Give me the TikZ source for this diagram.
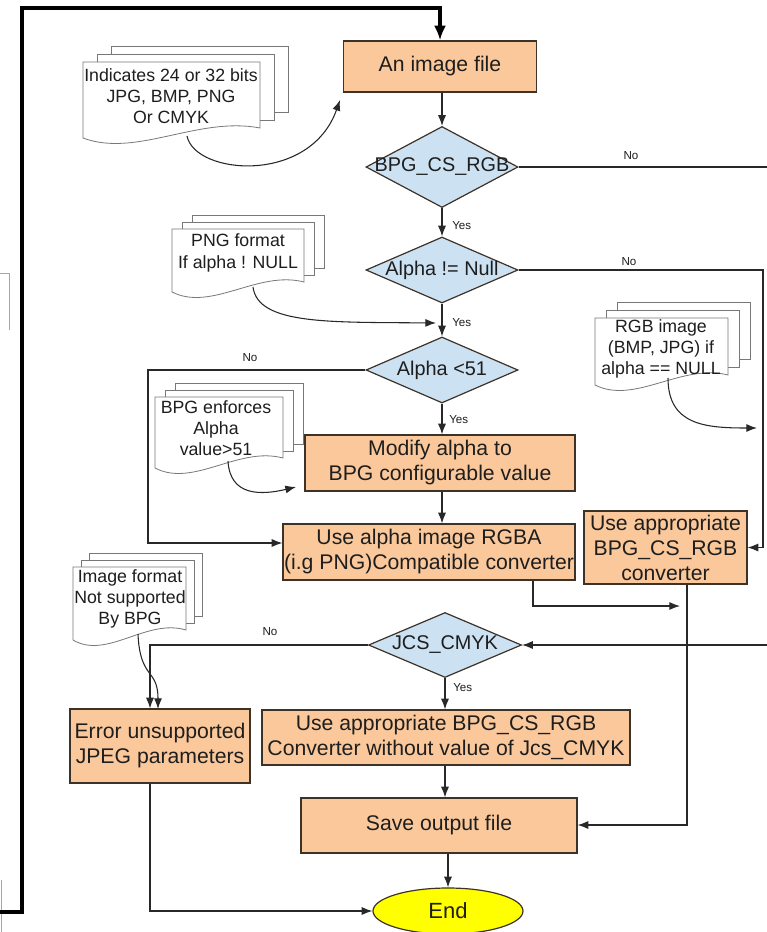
\documentclass[tikz,border=0pt]{standalone}
\usepackage{fontspec}
\setmainfont{Liberation Sans}
\usetikzlibrary{arrows.meta,shapes.geometric,calc}
\definecolor{boxfill}{RGB}{250,200,155}
\definecolor{diafill}{RGB}{204,226,242}
\definecolor{endfill}{RGB}{255,255,0}
\definecolor{boxline}{RGB}{60,50,40}
\definecolor{linecol}{RGB}{40,40,40}
\definecolor{notebord}{RGB}{120,120,120}
\definecolor{txt}{RGB}{30,30,30}
\newcommand\mydocstack[6]{%
  \draw[notebord, line width=0.6pt, fill=white] ({#1+2*#5},{#2-2*#6}) rectangle ({#3+2*#5},{#4-2*#6});
  \draw[notebord, line width=0.6pt, fill=white] ({#1+#5},{#2-#6}) rectangle ({#3+#5},{#4-#6});
  \draw[notebord, line width=0.6pt, fill=white] (#1,#2) -- (#3,#2) -- (#3,#4)
    .. controls ({#1+0.65*(#3-#1)},{#4-12}) and ({#1+0.3*(#3-#1)},{#4+30}) .. (#1,{#4+10}) -- cycle;
}
\begin{document}
\begin{tikzpicture}[x=0.75pt,y=-0.75pt,
  sz/.style 2 args={minimum width=#1*0.75pt, minimum height=#2*0.75pt},
  proc/.style={rectangle, draw=boxline, fill=boxfill, line width=0.9pt, inner sep=0pt, align=center,
    font=\fontsize{15.9}{18.75}\selectfont, text=txt},
  dec/.style={diamond, draw=boxline, fill=diafill, line width=0.9pt, inner sep=0pt},
  dtext/.style={font=\fontsize{14.9}{17}\selectfont, inner sep=0pt, text=txt},
  notetext/.style={align=center, font=\fontsize{13.3}{16}\selectfont, inner sep=0pt, text=txt},
  lab/.style={font=\fontsize{8.7}{10}\selectfont, inner sep=0pt, text=txt},
  conn/.style={draw=linecol, line width=0.8pt, -{Latex[length=8pt,width=6pt]}},
  plainline/.style={draw=linecol, line width=0.8pt},
  loopline/.style={draw=black, line width=2.6pt, -{Latex[length=11pt,width=9pt]}},
]
\useasboundingbox (0,0) rectangle (767,932);
\clip (0,0) rectangle (767,932);
\fill[white] (0,0) rectangle (767,932);

% small gray fragments at the left edge
\draw[gray!70, line width=0.6pt] (0,273) -- (9,273) -- (9,330);
\draw[gray!70, line width=0.6pt] (1,880) -- (1,932);

% ---- nodes ----
\node[proc, sz={193}{51}] (img) at (440,66.5) {An image file};
\node[dec, sz={152}{81}] (d1) at (442,167) {};
\node[dtext] (d1t) at (d1) {BPG\_CS\_RGB};
\node[dec, sz={152}{66}] (d2) at (442,270) {};
\node[dtext] (d2t) at (d2) {Alpha != Null};
\node[dec, sz={152}{66}] (d3) at (442,370) {};
\node[dtext] (d3t) at (d3) {Alpha <51};
\node[proc, sz={270}{56}] (mod) at (440,463) {Modify alpha to\\BPG configurable value};
\node[proc, sz={292}{56}] (usea) at (429,552) {Use alpha image RGBA\\(i.g PNG)Compatible converter};
\node[proc, sz={163}{73}] (usebpg) at (665.5,547.5) {Use appropriate\\BPG\_CS\_RGB\\converter};
\node[dec, sz={153}{65}] (d4) at (445,645) {};
\node[dtext] (d4t) at (d4) {JCS\_CMYK};
\node[proc, sz={180}{74}] (err) at (160,746) {Error unsupported\\JPEG parameters};
\node[proc, sz={368}{55}] (conv) at (446,737.5) {Use appropriate BPG\_CS\_RGB\\Converter without value of Jcs\_CMYK};
\node[proc, sz={276}{55}] (save) at (439,825.5) {Save output file};
\node[ellipse, draw=boxline, fill=endfill, line width=0.9pt, inner sep=0pt, sz={150}{46},
  font=\fontsize{16.5}{19}\selectfont, text=txt] (end) at (448,911) {End};

% ---- notes ----
\mydocstack{83}{62}{260}{128}{14}{8}
\node[notetext] (n1) at (171,96) {Indicates 24 or 32 bits\\JPG, BMP, PNG\\Or CMYK};
\mydocstack{172}{229}{304}{282}{10}{7}
\node[notetext] (n2) at (238,253) {PNG format\\If alpha ! NULL};
\mydocstack{155}{397}{283}{458}{10}{7}
\node[notetext] (n3) at (216,428) {BPG enforces\\Alpha\\value>51};
\mydocstack{595}{318}{728}{375}{11}{8}
\node[notetext] (n4) at (661,349) {RGB image\\(BMP, JPG) if\\alpha == NULL};
\mydocstack{73}{567}{186}{630}{8}{7}
\node[notetext] (n5) at (130,599) {Image format\\Not supported\\By BPG};

% ---- coordinates for bends / free ends ----
\coordinate (loopstart) at (0,912);
\coordinate (loopc) at (22,8);
\coordinate (d1out) at (767,167);
\coordinate (c2) at (763,270);
\coordinate (c3) at (148,370);
\coordinate (c5) at (533,606);
\coordinate (c4) at (680,606);
\coordinate (c6) at (687,825);
\coordinate (c7) at (767,645);
\coordinate (c8) at (150,645);
\coordinate (c9) at (150,911);
\coordinate (n1b) at (187,136);
\coordinate (n1e) at (340,100);
\coordinate (n2b) at (253,287);
\coordinate (n2e) at (436,323);
\coordinate (n3b) at (228,461);
\coordinate (n3e) at (296,487);
\coordinate (n4b) at (668,378);
\coordinate (n4e) at (757,428);
\coordinate (n5b) at (138,634);
\coordinate (n5e) at (158,709);

% ---- connectors ----
\draw[loopline] (loopstart) -- (22,912) -- (loopc) -| (img.north);
\draw[conn] (img.south -| d1.north) -- (d1.north);
\draw[conn] (d1.south) -- (d2.north);
\draw[plainline] (d1.east) -- (d1out);
\draw[conn] (d2.south) -- (d3.north);
\draw[conn] (d2.east) -- (c2) |- (usebpg.east);
\draw[conn] (d3.south) -- (d3.south |- mod.north);
\draw[conn] (d3.west) -- (c3) |- ($(usea.west)+(0,-9)$);
\draw[conn] (mod.south -| d3.south) -- (d3.south |- usea.north);
\draw[conn] (usea.south -| c5) -- (c5) -- (c4);
\draw[conn] (usebpg.south -| c6) -- (c6) -- (save.east |- c6);
\draw[conn] (c7) -- (d4.east);
\draw[conn] (d4.south) -- (d4.south |- conv.north);
\draw[conn] (d4.west) -- (c8) -- (c8 |- err.north);
\draw[conn] (conv.south -| d4.south) -- (d4.south |- save.north);
\draw[conn] (save.south -| end.north) -- (end.north);
\draw[conn] (err.south -| c9) -- (c9) -- (end.west);

% note curves
\draw[conn] (n1b) .. controls (195,175) and (310,185) .. (n1e);
\draw[conn] (n2b) .. controls (258,325) and (330,322) .. (n2e);
\draw[conn] (n3b) .. controls (230,497) and (262,495) .. (n3e);
\draw[conn] (n4b) .. controls (668,425) and (705,428) .. (n4e);
\draw[conn] (n5b) .. controls (140,680) and (158,668) .. (n5e);

% ---- labels ----
\node[lab, anchor=west] (y1) at (452,226) {Yes};
\node[lab, anchor=west] (y2) at (452,323) {Yes};
\node[lab, anchor=west] (y3) at (449,420) {Yes};
\node[lab, anchor=west] (y4) at (453,688) {Yes};
\node[lab] (no1) at (631,156) {No};
\node[lab] (no2) at (629,262) {No};
\node[lab] (no3) at (250,358) {No};
\node[lab] (no4) at (270,632) {No};
\end{tikzpicture}
\end{document}
